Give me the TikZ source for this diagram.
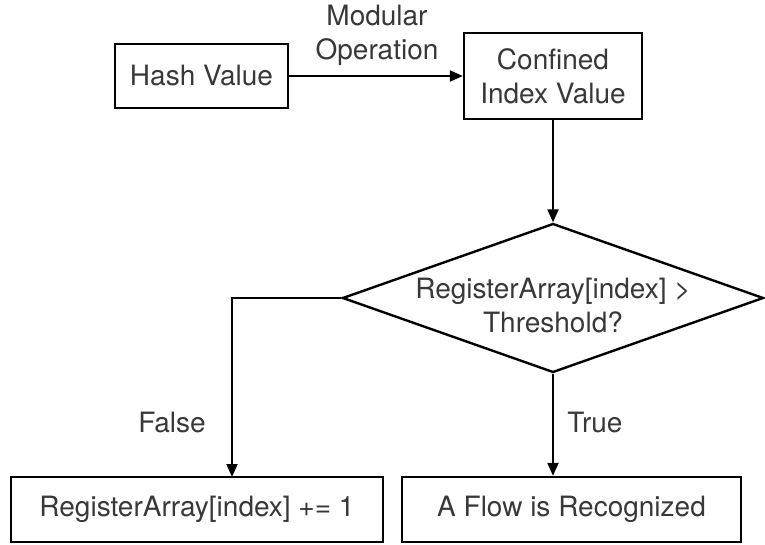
\documentclass[tikz,border=0pt]{standalone}
\usepackage{fontspec}
\setmainfont{TeX Gyre Heros}
\usetikzlibrary{positioning,shapes.geometric,arrows.meta}
\definecolor{txtGray}{gray}{0.22}

\begin{document}
\begin{tikzpicture}[x=1pt,y=-1pt,
		box/.style={draw,line width=2.4pt,inner sep=0pt,align=center},
		flow/.style={line width=2.2pt,-{Triangle[length=13pt,width=11pt]}},
		lbl/.style={text=txtGray,font=\fontsize{28}{34}\selectfont,align=center}]
		%\draw[help lines,step=50] (0,0) grid (765,545);
		\useasboundingbox (0,0) rectangle (765,545);

		\node[box,lbl,minimum width=173pt,minimum height=64pt] (hash) at (201.5,76) {Hash Value};
		\node[box,lbl,minimum width=178pt,minimum height=86pt] (conf) at (553,76) {Confined\\Index Value};
		\node[lbl] (modop) at (377,35) {Modular\\Operation};

		\node[draw,diamond,line width=2.4pt,inner sep=0pt,minimum width=421pt,minimum height=149pt] (dia) at (553,298) {};
		\node[lbl] (diatxt) at (553,306) {RegisterArray[index] >\\Threshold?};

		\node[box,lbl,minimum width=372pt,minimum height=65pt] (incr) at (197,509.5) {RegisterArray[index] += 1};
		\node[box,lbl,minimum width=339pt,minimum height=65pt] (found) at (571.5,509.5) {A Flow is Recognized};
		\coordinate (fturn) at (232,477);

		\draw[flow] (hash) -- (conf);
		\draw[flow] (conf) -- (dia);
		\draw[flow] (dia.west) -| (fturn);
		\draw[flow] (dia.south) -- (dia.south |- found.north);

		\node[lbl] (flbl) at (172,423) {False};
		\node[lbl] (tlbl) at (595,423) {True};
\end{tikzpicture}
\end{document}
